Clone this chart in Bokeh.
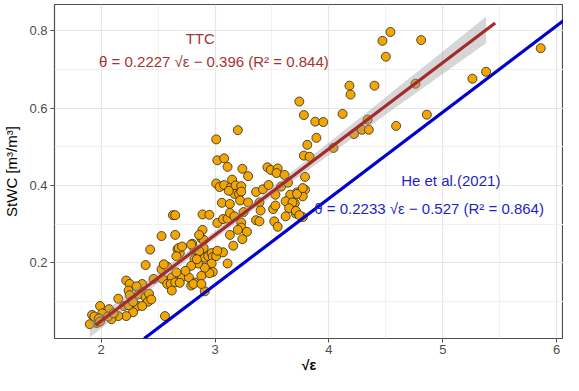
import numpy as np
from bokeh.plotting import figure
from bokeh.models import Label, FixedTicker, Range1d, Slope
from bokeh.embed import file_html
from bokeh.resources import INLINE

# sqrt(epsilon) and StWC values
sqrt_eps = [
    5.86, 4.54, 4.47, 4.81, 4.50, 4.76, 5.26, 5.38, 4.86, 4.59, 4.40,
    4.18, 4.19, 3.74, 4.12, 3.78, 3.88, 3.95, 4.34, 4.29, 4.35, 4.22, 3.89, 3.81, 4.04, 3.78, 3.83, 3.79, 3.72, 3.79, 3.77, 3.70, 3.71, 3.77,
    3.20, 3.01, 3.02, 3.08, 3.11, 3.24, 3.29, 3.46, 3.49, 3.55, 3.54, 3.61, 3.01, 3.04, 3.08, 3.14, 3.15, 3.18, 3.23, 3.17, 3.21, 3.23, 3.36, 3.42, 3.47, 3.58, 3.64, 3.53, 3.66, 3.72, 3.77,
    3.12, 3.62, 3.68, 3.65, 3.71, 3.74, 3.62, 3.06, 3.13, 3.22, 3.29, 3.39, 3.40, 3.51, 3.53, 3.36, 3.39, 3.52, 3.55, 2.89, 2.95, 3.02, 3.07, 3.11, 3.13, 3.17, 3.23, 3.23, 3.28, 3.13, 3.24, 3.16, 2.89, 2.88, 2.90, 2.80, 2.82, 2.90, 2.86, 2.82, 2.91, 2.94, 2.97, 2.98, 2.97, 2.98, 2.95, 2.91, 2.88, 2.85, 2.79, 2.82, 2.79, 2.91, 3.11, 3.01, 3.07, 3.02, 3.25, 3.20,
    2.43, 2.39, 2.22, 2.25, 2.15, 2.24, 2.25, 2.27, 2.20, 2.32, 2.28, 2.22, 2.15, 2.09, 2.07, 1.99, 2.01, 1.92, 1.96, 1.90, 2.36, 2.36, 2.33, 2.39, 2.42, 2.41, 2.36, 2.44, 2.56, 2.53, 2.58, 2.54, 2.58, 2.62, 2.61, 2.65, 2.71, 2.69, 2.77, 2.74, 2.66, 2.62, 2.46, 2.81, 2.67, 2.69, 2.55, 2.31, 2.24, 2.28, 1.94, 1.98, 1.99, 2.06, 2.11,
    2.53, 2.63, 2.65, 2.65, 2.68, 2.66, 2.79, 2.71, 2.86, 2.84, 2.88, 2.86,
]
stwc = [
    0.755, 0.797, 0.774, 0.776, 0.733, 0.663, 0.676, 0.694, 0.583, 0.554, 0.658,
    0.658, 0.635, 0.617, 0.585, 0.582, 0.565, 0.564, 0.570, 0.544, 0.544, 0.533, 0.523, 0.505, 0.497, 0.477, 0.474, 0.422, 0.382, 0.389, 0.372, 0.354, 0.327, 0.318,
    0.543, 0.519, 0.465, 0.470, 0.448, 0.443, 0.424, 0.447, 0.440, 0.444, 0.432, 0.427, 0.405, 0.396, 0.401, 0.396, 0.415, 0.400, 0.398, 0.378, 0.378, 0.384, 0.383, 0.390, 0.401, 0.397, 0.407, 0.376, 0.376, 0.378, 0.393,
    0.386, 0.359, 0.356, 0.341, 0.334, 0.323, 0.320, 0.355, 0.352, 0.361, 0.356, 0.356, 0.335, 0.339, 0.348, 0.310, 0.307, 0.307, 0.293, 0.325, 0.324, 0.303, 0.313, 0.314, 0.329, 0.320, 0.304, 0.291, 0.280, 0.272, 0.261, 0.244, 0.285, 0.263, 0.259, 0.249, 0.234, 0.238, 0.219, 0.210, 0.213, 0.217, 0.225, 0.215, 0.198, 0.176, 0.173, 0.187, 0.166, 0.198, 0.192, 0.149, 0.141, 0.126, 0.198, 0.217, 0.227, 0.231, 0.331, 0.285,
    0.234, 0.194, 0.154, 0.145, 0.107, 0.128, 0.116, 0.100, 0.088, 0.088, 0.072, 0.062, 0.062, 0.054, 0.080, 0.088, 0.069, 0.065, 0.044, 0.041, 0.145, 0.124, 0.118, 0.111, 0.120, 0.099, 0.088, 0.105, 0.062, 0.183, 0.190, 0.158, 0.145, 0.162, 0.145, 0.149, 0.162, 0.148, 0.162, 0.179, 0.175, 0.128, 0.158, 0.145, 0.235, 0.225, 0.196, 0.139, 0.090, 0.099, 0.061, 0.056, 0.048, 0.061, 0.069,
    0.269, 0.323, 0.323, 0.272, 0.238, 0.217, 0.247, 0.242, 0.230, 0.209, 0.145, 0.272,
]

# fitted models
ttc_slope, ttc_intercept = 0.2227, -0.396
he_slope, he_intercept = 0.2233, -0.527
ttc_line_x = [1.95, 5.46]
band_x_end = 5.38

x_ticks = [2, 3, 4, 5, 6]
y_ticks = [0.2, 0.4, 0.6, 0.8]

x = np.array(sqrt_eps)
y = np.array(stwc)

p = figure(width=563, height=375, output_backend="svg", toolbar_location=None,
           x_range=Range1d(1.59, 6.06), y_range=Range1d(0.004, 0.868),
           min_border_left=53, min_border_right=0, min_border_top=4, min_border_bottom=20)

p.background_fill_color = "white"
p.border_fill_color = "white"
p.outline_line_color = "#4d4d4d"
p.outline_line_width = 1.2

p.xaxis.ticker = FixedTicker(ticks=x_ticks, minor_ticks=[1.5, 2.5, 3.5, 4.5, 5.5])
p.yaxis.ticker = FixedTicker(ticks=y_ticks, minor_ticks=[0.1, 0.3, 0.5, 0.7])
for g in (p.xgrid, p.ygrid):
    g.grid_line_color = "#E6E6E6"
    g.grid_line_width = 1.2
    g.minor_grid_line_color = "#F1F1F1"
    g.minor_grid_line_width = 1

for ax in (p.xaxis, p.yaxis):
    ax.axis_line_color = None
    ax.major_tick_in = 0
    ax.major_tick_out = 4
    ax.major_tick_line_color = "#4d4d4d"
    ax.minor_tick_line_color = None
    ax.major_label_text_color = "#4D4D4D"
    ax.major_label_text_font = "Liberation Sans"
    ax.major_label_text_font_size = "13px"
    ax.major_label_standoff = 3
    ax.axis_label_text_font = "Liberation Sans"
    ax.axis_label_text_font_style = "normal"
    ax.axis_label_text_color = "black"
    ax.axis_label_text_font_size = "15px"
    ax.axis_label_standoff = 6

p.xaxis.axis_label = "√ε"
p.xaxis.axis_label_text_font_style = "bold"
p.xaxis.axis_label_text_font_size = "14px"
p.xaxis.axis_label_standoff = 0
p.xaxis.major_label_standoff = 2
p.xaxis.major_label_text_line_height = 0.9
p.xaxis.axis_label_text_line_height = 0.9
p.yaxis.axis_label = "StWC [m³/m³]"

# points
p.scatter(x, y, size=9, fill_color="#F3A600", line_color="#262626", line_width=0.8)

# confidence band of TTC fit (mean prediction, 95%)
n = len(x)
res = y - (ttc_slope * x + ttc_intercept)
s = np.sqrt(np.sum(res ** 2) / (n - 2))
xbar = x.mean()
sxx = np.sum((x - xbar) ** 2)
bx = np.linspace(x.min(), band_x_end, 80)
by = ttc_slope * bx + ttc_intercept
se = s * np.sqrt(1.0 / n + (bx - xbar) ** 2 / sxx)
p.varea(x=bx, y1=by - 1.97 * se, y2=by + 1.97 * se, fill_color="#999999", fill_alpha=0.4)

# TTC line
lx = np.array(ttc_line_x)
p.line(lx, ttc_slope * lx + ttc_intercept, line_color="#A52A2A", line_width=3.2)

# He et al. line
p.add_layout(Slope(gradient=he_slope, y_intercept=he_intercept, line_color="#0000CD", line_width=3.2))

red_txt = "#A83232"
blue_txt = "#1F1FC8"
p.add_layout(Label(x=2.87, y=0.78, text="TTC", text_align="center", text_baseline="middle",
                   text_color=red_txt, text_font="Liberation Sans", text_font_size="15px"))
p.add_layout(Label(x=2.99, y=0.721, text="θ = 0.2227 √ε − 0.396 (R² = 0.844)", text_align="center",
                   text_baseline="middle", text_color=red_txt, text_font="Liberation Sans",
                   text_font_size="15px"))
p.add_layout(Label(x=5.07, y=0.413, text="He et al.(2021)", text_align="center", text_baseline="middle",
                   text_color=blue_txt, text_font="Liberation Sans", text_font_size="15px"))
p.add_layout(Label(x=4.88, y=0.341, text="θ = 0.2233 √ε − 0.527 (R² = 0.864)", text_align="center",
                   text_baseline="middle", text_color=blue_txt, text_font="Liberation Sans",
                   text_font_size="15px"))

open("out.html", "w").write(file_html(p, INLINE))
